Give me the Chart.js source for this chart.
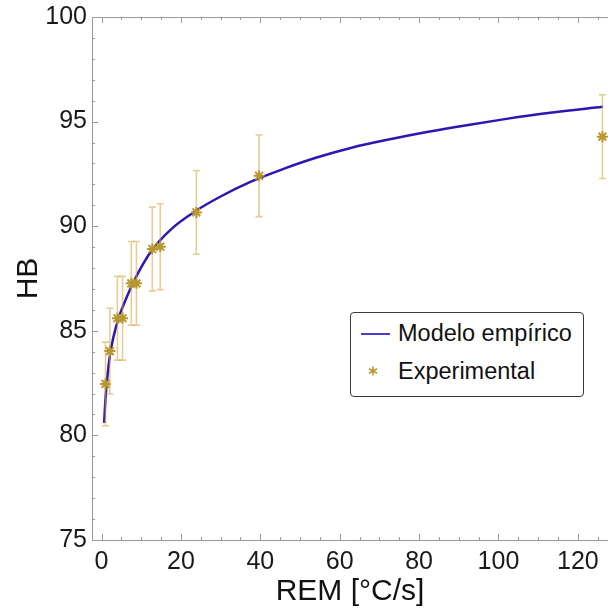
<!DOCTYPE html>
<html>
<head>
<meta charset="utf-8">
<script src="https://cdn.jsdelivr.net/npm/chart.js@4.4.1/dist/chart.umd.min.js"></script>
<style>
  html, body { margin: 0; padding: 0; background: #fff; overflow: hidden; }
  #wrap { position: relative; width: 608px; height: 613px; }
  #legend {
    position: absolute; left: 350px; top: 312px; width: 232px; height: 83px;
    border: 1px solid #3a3a3a; border-radius: 4px; background: #fff;
    font-family: "Liberation Sans", Arial, sans-serif; font-size: 23.5px; color: #111;
  }
  #legend .row { position: absolute; left: 0; height: 30px; line-height: 30px; white-space: nowrap; }
  #legend .txt { position: absolute; left: 47px; }
  #legend .line { position: absolute; left: 10px; top: 15px; width: 29px; height: 2px; background: #4a3cc8; }
  #legend svg { position: absolute; left: 17px; top: 10px; }
</style>
</head>
<body>
<div id="wrap">
  <canvas id="hbChart"></canvas>
  <div id="legend">
    <div class="row" style="top: 5px;"><span class="line"></span><span class="txt">Modelo empírico</span></div>
    <div class="row" style="top: 43px;">
      <svg width="10" height="10" viewBox="-5 -5 10 10">
        <g stroke="#b8972f" stroke-width="1.6">
          <line x1="0" y1="-4.5" x2="0" y2="4.5"/>
          <line x1="-4" y1="-2.2" x2="4" y2="2.2"/>
          <line x1="-4" y1="2.2" x2="4" y2="-2.2"/>
        </g>
      </svg>
      <span class="txt">Experimental</span>
    </div>
  </div>
</div>
<script>
// Modelo empírico (curva)
const curveREM = [0.66, 1.0, 1.5, 2.1, 3.0, 4.3, 6.0, 8.5, 12.5, 17.5, 23.5, 30, 37.5, 46, 54, 63, 72, 82, 92, 102, 113, 126.3];
const curveHB = [80.6, 81.75, 82.85, 83.8, 84.7, 85.6, 86.45, 87.5, 88.8, 89.85, 90.7, 91.42, 92.12, 92.75, 93.27, 93.75, 94.13, 94.5, 94.83, 95.13, 95.42, 95.71];

// Ensayos experimentales
const expREM = [1.0, 2.1, 4.0, 5.3, 7.5, 8.8, 12.8, 14.8, 23.9, 39.7, 126.2];
const expHB = [82.46, 84.03, 85.60, 85.60, 87.27, 87.27, 88.91, 89.02, 90.66, 92.41, 94.28];
const expErr = [2.0, 2.05, 2.0, 2.0, 2.0, 2.0, 2.0, 2.05, 2.0, 1.95, 2.0];

// Ejes
const xTicks = [0, 20, 40, 60, 80, 100, 120];
const yTicks = [75, 80, 85, 90, 95, 100];

const FONT = '"Liberation Sans", Arial, sans-serif';

// marco con marcas hacia adentro
const framePlugin = {
  id: 'frame',
  afterDatasetsDraw(chart) {
    const { ctx, chartArea: a, scales: { x, y } } = chart;
    ctx.save();
    ctx.strokeStyle = '#9a9a9a';
    ctx.lineWidth = 1;
    ctx.beginPath();
    ctx.moveTo(a.right, a.top + 0.5); ctx.lineTo(a.left + 0.5, a.top + 0.5);
    ctx.lineTo(a.left + 0.5, a.bottom + 0.5); ctx.lineTo(a.right, a.bottom + 0.5);
    for (let v = 75; v <= 100; v++) {
      const py = Math.round(y.getPixelForValue(v)) + 0.5;
      const len = v % 5 === 0 ? 6 : 3;
      ctx.moveTo(a.left, py); ctx.lineTo(a.left + len, py);
    }
    for (let v = 0; v <= 125; v += 5) {
      const px = Math.round(x.getPixelForValue(v)) + 0.5;
      const len = v % 20 === 0 ? 6 : 3;
      ctx.moveTo(px, a.bottom); ctx.lineTo(px, a.bottom - len);
      ctx.moveTo(px, a.top); ctx.lineTo(px, a.top + len);
    }
    ctx.stroke();
    ctx.restore();
  }
};

// barras de error, debajo de los asteriscos
const errorBarPlugin = {
  id: 'errorBars',
  beforeDatasetDraw(chart, args) {
    if (args.index !== 1) return;
    const { ctx, scales: { x, y } } = chart;
    ctx.save();
    ctx.strokeStyle = 'rgba(205,165,60,0.55)';
    ctx.lineWidth = 1.6;
    expREM.forEach((r, i) => {
      const px = x.getPixelForValue(r);
      const top = y.getPixelForValue(expHB[i] + expErr[i]);
      const bot = y.getPixelForValue(expHB[i] - expErr[i]);
      ctx.beginPath();
      ctx.moveTo(px, top); ctx.lineTo(px, bot);
      ctx.moveTo(px - 3.5, top); ctx.lineTo(px + 3.5, top);
      ctx.moveTo(px - 3.5, bot); ctx.lineTo(px + 3.5, bot);
      ctx.stroke();
    });
    ctx.restore();
  }
};

const ctx = document.getElementById('hbChart').getContext('2d');
new Chart(ctx, {
  type: 'scatter',
  data: {
    datasets: [{
      type: 'line',
      label: 'Modelo empírico',
      data: curveREM.map((r, i) => ({ x: r, y: curveHB[i] })),
      borderColor: '#2d17b4',
      borderWidth: 2.5,
      pointRadius: 0,
      cubicInterpolationMode: 'monotone',
      fill: false,
      order: 2
    }, {
      label: 'Experimental',
      data: expREM.map((r, i) => ({ x: r, y: expHB[i] })),
      pointStyle: 'star',
      pointRadius: 5.5,
      borderColor: '#b8972f',
      backgroundColor: '#b8972f',
      borderWidth: 2,
      order: 1
    }]
  },
  options: {
    responsive: true,
    maintainAspectRatio: false,
    animation: false,
    layout: { autoPadding: false, padding: { top: 17, right: 0, left: 0, bottom: 0 } },
    plugins: { legend: { display: false }, tooltip: { enabled: false } },
    scales: {
      x: {
        type: 'linear', min: -2.4, max: 127.6,
        grid: { display: false, drawTicks: false },
        border: { display: false },
        afterFit: s => { s.height = 73; s.paddingLeft = 0; s.paddingRight = 0; },
        afterBuildTicks: s => { s.ticks = xTicks.map(v => ({ value: v })); },
        ticks: { font: { family: FONT, size: 25 }, color: '#1a1a1a', padding: 7, maxRotation: 0 },
        title: { display: true, text: 'REM [°C/s]', font: { family: FONT, size: 30 }, color: '#111', padding: { top: 0, bottom: 3 } }
      },
      y: {
        type: 'linear', min: 75, max: 100,
        grid: { display: false, drawTicks: false },
        border: { display: false },
        afterFit: s => { s.width = 92; s.paddingTop = 0; s.paddingBottom = 0; },
        afterBuildTicks: s => { s.ticks = yTicks.map(v => ({ value: v })); },
        ticks: { font: { family: FONT, size: 25 }, color: '#1a1a1a', padding: 5 },
        title: { display: true, text: 'HB', font: { family: FONT, size: 30 }, color: '#111', padding: { top: 11, bottom: 0 } }
      }
    }
  },
  plugins: [framePlugin, errorBarPlugin]
});
</script>
</body>
</html>
